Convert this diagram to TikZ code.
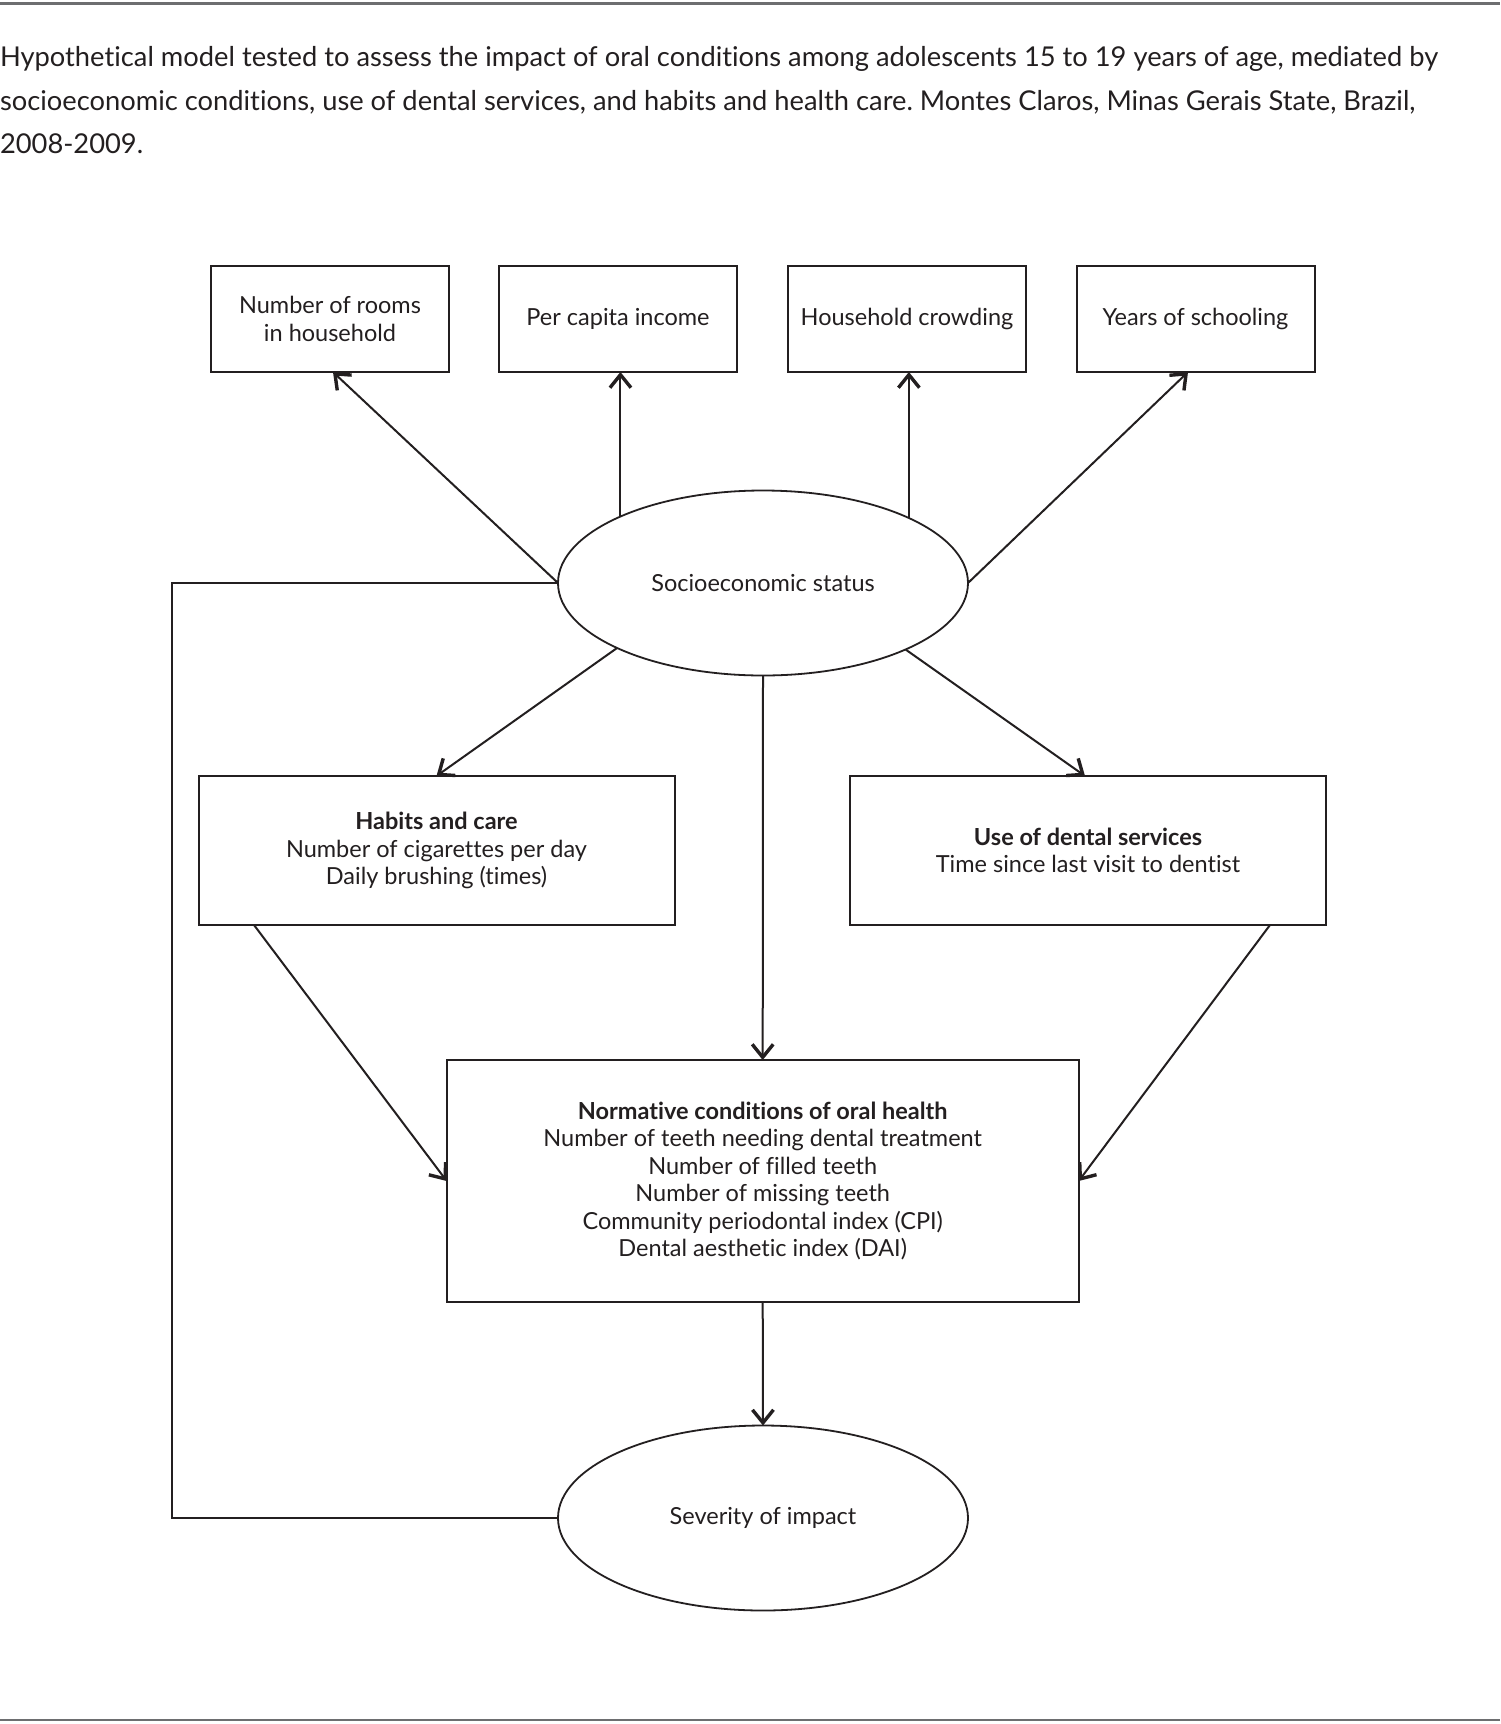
\documentclass[tikz,border=0pt]{standalone}
\usepackage{fontspec}
\setmainfont{Lato}[Ligatures=NoCommon]
\usetikzlibrary{arrows.meta,shapes.geometric,calc}
\definecolor{ink}{HTML}{231F20}
\definecolor{rulegray}{HTML}{6D6E70}
\begin{document}
\frenchspacing
\begin{tikzpicture}[x=1pt,y=-1pt,
  every node/.style={text=ink, inner sep=0pt, outer sep=0pt},
  lbl/.style={font=\fontsize{23.5}{27.5}\selectfont, align=center},
  box/.style={lbl, draw=ink, line width=2pt, rectangle},
  topbox/.style={box, minimum width=238pt, minimum height=106pt},
  midbox/.style={box, minimum width=476pt, minimum height=149pt},
  oval/.style={lbl, draw=ink, line width=1.8pt, ellipse, minimum width=410pt, minimum height=185pt},
  arr/.style={draw=ink, line width=2pt, -{Straight Barb[length=13pt,width=21pt,line width=3.4pt 0]}},
  con/.style={draw=ink, line width=2pt},
  captext/.style={anchor=base west, font=\fontsize{27.3}{43.5}\selectfont}
]
\useasboundingbox (0,0) rectangle (1500,1724);
\fill[white] (0,0) rectangle (1500,1724);
% rules
\draw[rulegray, line width=2.5pt] (0,3.5) -- (1500,3.5);
\draw[rulegray, line width=2.5pt] (0,1720) -- (1500,1720);
% caption
\node[captext] (cap1) at (0,66) {Hypothetical model tested to assess the impact of oral conditions among adolescents 15 to 19 years of age, mediated by};
\node[captext] (cap2) at (0,110) {socioeconomic conditions, use of dental services, and habits and health care. Montes Claros, Minas Gerais State, Brazil,};
\node[captext] (cap3) at (0,153) {2008-2009.};
% top boxes
\node[topbox] (b1) at (330,319) {Number of rooms\\in household};
\node[topbox] (b2) at (618,319) {Per capita income};
\node[topbox] (b3) at (907,319) {Household crowding};
\node[topbox] (b4) at (1195.5,319) {Years of schooling};
% ellipses
\node[oval] (soc) at (763,583) {Socioeconomic status};
\node[oval] (sev) at (763,1518) {Severity of impact};
% middle boxes
\node[midbox] (hab) at (436.5,850.5) {\textbf{Habits and care}\\Number of cigarettes per day\\Daily brushing (times)};
\node[midbox] (den) at (1088,850.5) {\textbf{Use of dental services}\\Time since last visit to dentist};
\node[box, minimum width=632pt, minimum height=242pt] (norm) at (762.7,1181) {\textbf{Normative conditions of oral health}\\Number of teeth needing dental treatment\\Number of filled teeth\\Number of missing teeth\\Community periodontal index (CPI)\\Dental aesthetic index (DAI)};
% connectors
\coordinate (lx) at (171.5,583);
\draw[arr] (soc.west) -- ([xshift=3pt]b1.south);
\draw[arr] (soc.155.71) -- (soc.155.71 |- b2.south);
\draw[arr] (soc.24.29) -- (soc.24.29 |- b3.south);
\draw[arr] (soc.east) -- ([xshift=-7.5pt]b4.south);
\draw[arr] (soc.204.29) -- (hab.north);
\draw[arr] (soc.335.71) -- ([xshift=-3pt]den.north);
\draw[arr] (soc.south) -- (norm.north);
\draw[arr] ([xshift=-182.5pt]hab.south) -- (norm.west);
\draw[arr] ([xshift=182pt]den.south) -- (norm.east);
\draw[arr] (norm.south) -- (sev.north);
\draw[con] (soc.west) -- (lx) -- (lx |- sev.west) -- (sev.west);
\end{tikzpicture}
\end{document}
